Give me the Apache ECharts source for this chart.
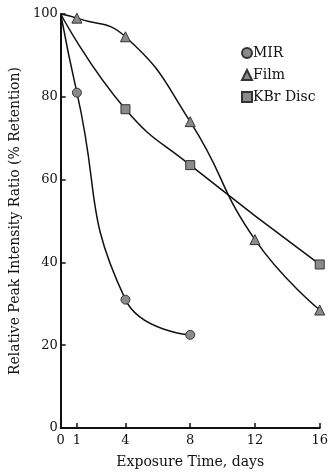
<!DOCTYPE html>
<html><head><meta charset="utf-8">
<script src="https://cdn.jsdelivr.net/npm/echarts@6/dist/echarts.min.js"></script>
<style>html,body{margin:0;padding:0;background:#fff}#c{width:331px;height:474px}</style>
</head><body><div id="c"></div>
<script>
const mirX = [0, 1, 4, 8];
const mirY = [100, 81, 31, 22.5];
const filmX = [0, 1, 4, 8, 12, 16];
const filmY = [100, 99, 94.5, 74, 45.5, 28.5];
const kbrX = [0, 4, 8, 16];
const kbrY = [100, 77, 63.5, 39.5];
const xTickLabels = [0, 1, 4, 8, 12, 16];
const xTicks = [1, 4, 8, 12, 16];
const yTickLabels = [0, 20, 40, 60, 80, 100];
const seriesNames = ['MIR', 'Film', 'KBr Disc'];

const font = 'DejaVu Serif';
const pts = (xs, ys) => xs.map((x, i) => (x === 0 ? { value: [x, ys[i]], symbol: 'none' } : [x, ys[i]]));
const mk = (name, xs, ys, symbol, size) => ({
  name, type: 'line', data: pts(xs, ys), smooth: 0.5,
  symbol, symbolSize: size, showSymbol: true,
  lineStyle: { color: '#111', width: 1.5 },
  itemStyle: { color: '#8a8a8a', borderColor: '#333', borderWidth: 1 },
  z: 3
});
const chart = echarts.init(document.getElementById('c'));
chart.setOption({
  animation: false,
  textStyle: { fontFamily: font, color: '#111' },
  grid: { left: 56, right: 9, top: 14, bottom: 45, containLabel: false },
  legend: {
    orient: 'vertical', left: 241, top: 46, padding: 0, itemGap: 8, itemWidth: 10, itemHeight: 10,
    textStyle: { fontFamily: font, fontSize: 14, color: '#111', padding: [0, 0, 0, -4] },
    data: [
      { name: seriesNames[0], icon: 'circle' },
      { name: seriesNames[1], icon: 'triangle' },
      { name: seriesNames[2], icon: 'rect' }
    ]
  },
  xAxis: {
    type: 'value', min: 0, max: 16, interval: 1,
    name: 'Exposure Time, days', nameLocation: 'middle', nameGap: 27,
    nameTextStyle: { fontFamily: font, fontSize: 14, color: '#111' },
    axisLine: { onZero: false, lineStyle: { color: '#111', width: 2 } },
    axisTick: { inside: true, length: 5, customValues: xTicks, lineStyle: { color: '#111', width: 1.5 } },
    axisLabel: { customValues: xTickLabels, fontFamily: font, fontSize: 13, color: '#111', margin: 6 },
    splitLine: { show: false }
  },
  yAxis: {
    type: 'value', min: 0, max: 100, interval: 20,
    name: 'Relative Peak Intensity Ratio (% Retention)', nameLocation: 'middle', nameGap: 37,
    nameTextStyle: { fontFamily: font, fontSize: 14, color: '#111' },
    axisLine: { show: true, onZero: false, lineStyle: { color: '#111', width: 2 } },
    axisTick: { show: true, inside: true, length: 5, lineStyle: { color: '#111', width: 1.5 } },
    axisLabel: { customValues: yTickLabels, fontFamily: font, fontSize: 13, color: '#111', margin: 3 },
    splitLine: { show: false }
  },
  series: [
    mk(seriesNames[0], mirX, mirY, 'circle', 9),
    mk(seriesNames[1], filmX, filmY, 'triangle', 10),
    mk(seriesNames[2], kbrX, kbrY, 'rect', 9)
  ]
});
</script></body></html>
